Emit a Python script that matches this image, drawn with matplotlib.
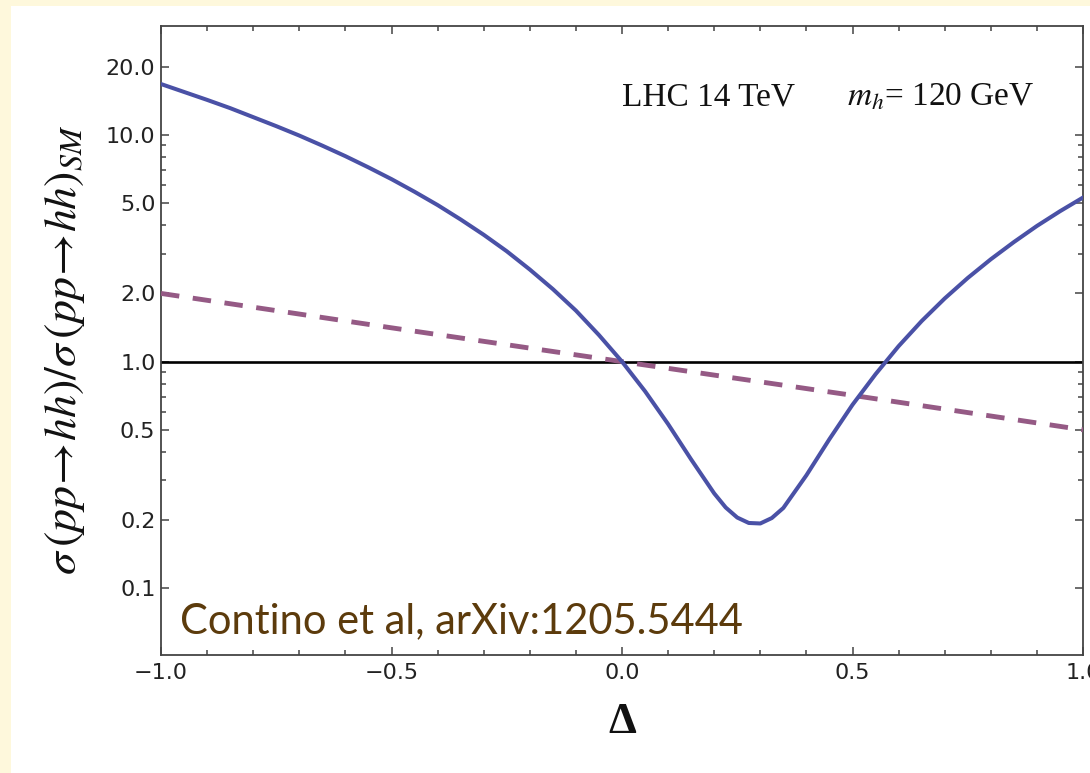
import matplotlib
matplotlib.use('Agg')
import matplotlib.pyplot as plt
import matplotlib.patches as mpatches
from matplotlib.ticker import FixedLocator, FixedFormatter, NullFormatter

# ---- data ----
delta = [-1.00, -0.95, -0.90, -0.85, -0.80, -0.75, -0.70, -0.65, -0.60, -0.55,
         -0.50, -0.45, -0.40, -0.35, -0.30, -0.25, -0.20, -0.15, -0.10, -0.05,
         0.00, 0.05, 0.10, 0.15, 0.20, 0.225, 0.25, 0.275, 0.30, 0.325, 0.35,
         0.40, 0.45, 0.50, 0.55, 0.60, 0.65, 0.70, 0.75, 0.80, 0.85, 0.90, 0.95, 1.00]
ratio_full = [16.8, 15.5, 14.3, 13.15, 12.0, 10.95, 9.95, 8.98, 8.07, 7.2,
              6.39, 5.62, 4.91, 4.24, 3.63, 3.07, 2.55, 2.09, 1.68, 1.31,
              1.00, 0.74, 0.53, 0.37, 0.262, 0.227, 0.205, 0.194, 0.193, 0.204, 0.226,
              0.315, 0.455, 0.645, 0.88, 1.17, 1.51, 1.90, 2.34, 2.83, 3.37, 3.97, 4.61, 5.30]

delta_dash = [-1.0, -0.5, 0.0, 0.5, 1.0]
ratio_dash = [2.0, 1.41, 1.0, 0.71, 0.5]

x_major = [-1.0, -0.5, 0.0, 0.5, 1.0]
x_labels = ['\u22121.0', '\u22120.5', '0.0', '0.5', '1.0']
x_minor = [-0.9, -0.8, -0.7, -0.6, -0.4, -0.3, -0.2, -0.1,
           0.1, 0.2, 0.3, 0.4, 0.6, 0.7, 0.8, 0.9]
y_major = [0.1, 0.2, 0.5, 1.0, 2.0, 5.0, 10.0, 20.0]
y_labels = ['0.1', '0.2', '0.5', '1.0', '2.0', '5.0', '10.0', '20.0']
y_minor = [0.3, 0.4, 0.6, 0.7, 0.8, 0.9, 3, 4, 6, 7, 8, 9]

plt.rcParams['mathtext.fontset'] = 'stix'

W, H = 1090, 773
fig = plt.figure(figsize=(W / 100, H / 100), dpi=100, facecolor='#FEF8DC')
fig.patches.append(mpatches.Rectangle((11 / W, 0), 1 - 11 / W, 1 - 6 / H,
                                      transform=fig.transFigure, facecolor='white',
                                      edgecolor='none', zorder=-1))

ax = fig.add_axes([161 / W, 1 - 655 / H, 922 / W, 629 / H])
ax.set_yscale('log')
ax.set_xlim(-1, 1)
ax.set_ylim(0.0507, 30.3)

ax.axhline(1.0, color='black', lw=1.9, zorder=2)
ax.plot(delta_dash, ratio_dash, color='#955a85', lw=3.5, dashes=(3.8, 2.8),
        solid_capstyle='butt', zorder=3)
ax.plot(delta, ratio_full, color='#4a51a6', lw=2.9, zorder=4)

ax.xaxis.set_major_locator(FixedLocator(x_major))
ax.xaxis.set_major_formatter(FixedFormatter(x_labels))
ax.xaxis.set_minor_locator(FixedLocator(x_minor))
ax.xaxis.set_minor_formatter(NullFormatter())
ax.yaxis.set_major_locator(FixedLocator(y_major))
ax.yaxis.set_major_formatter(FixedFormatter(y_labels))
ax.yaxis.set_minor_locator(FixedLocator(y_minor))
ax.yaxis.set_minor_formatter(NullFormatter())

for s in ax.spines.values():
    s.set_color('#444444')
    s.set_linewidth(1.3)
ax.tick_params(which='both', direction='in', top=True, right=True,
               color='#444444', width=1.1)
ax.tick_params(which='major', length=6)
ax.tick_params(which='minor', length=3.5)
ax.tick_params(axis='both', which='major', labelsize=16, labelcolor='#222222')
ax.tick_params(axis='x', which='major', pad=6)
ax.tick_params(axis='y', which='major', pad=4)
for lab in ax.get_xticklabels() + ax.get_yticklabels():
    lab.set_family('DejaVu Sans')

ax.set_ylabel(r'$\sigma\,(pp\!\rightarrow\! hh)/\sigma\,(pp\!\rightarrow\! hh)_{SM}$',
              fontsize=33, color='#111111')
ax.yaxis.set_label_coords(-0.080, 0.485)
ax.set_xlabel('\u0394', fontsize=32, fontweight='bold', family='Liberation Serif',
              color='#111111')
ax.xaxis.set_label_coords(0.5, -0.1065)
ax.xaxis.label.set_va('center')

ax.text(0.5, 0.874, 'LHC 14 TeV', transform=ax.transAxes, fontsize=24,
        family='Liberation Serif', color='#111111', va='baseline', ha='left')
ax.text(0.744, 0.874, r'$m_h$= 120 GeV', transform=ax.transAxes, fontsize=24,
        family='Liberation Serif', color='#111111', va='baseline', ha='left')

ax.text(0.0206, 0.035, 'Contino et al, arXiv:1205.5444', transform=ax.transAxes,
        fontsize=30, family='Lato', color='#5C3B0C', va='baseline', ha='left')

fig.savefig('out.png', dpi=100, facecolor=fig.get_facecolor())
